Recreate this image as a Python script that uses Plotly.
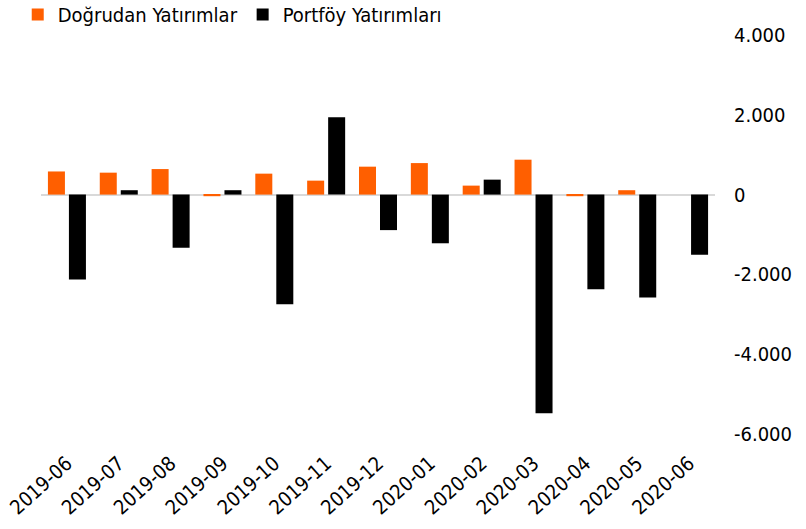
import plotly.graph_objects as go

categories = ["2019-06", "2019-07", "2019-08", "2019-09", "2019-10", "2019-11", "2019-12",
              "2020-01", "2020-02", "2020-03", "2020-04", "2020-05", "2020-06"]
dogrudan = [580, 550, 640, -40, 525, 350, 700, 790, 225, 875, -40, 110, 0]
portfoy = [-2130, 110, -1330, 110, -2750, 1940, -890, -1220, 375, -5480, -2370, -2580, -1510]
y_tickvals = [4000, 2000, 0, -2000, -4000, -6000]
y_ticktext = ["4.000", "2.000", "0", "-2.000", "-4.000", "-6.000"]

FONT = "DejaVu Sans Condensed, DejaVu Sans, sans-serif"

fig = go.Figure()
fig.add_trace(go.Bar(x=categories, y=dogrudan, name="Doğrudan Yatırımlar",
                     marker=dict(color="#FF5F00", line=dict(width=0))))
fig.add_trace(go.Bar(x=categories, y=portfoy, name="Portföy Yatırımları",
                     marker=dict(color="#000000", line=dict(width=0))))

fig.update_layout(
    width=806, height=529,
    margin=dict(l=41, r=91, t=35, b=95, autoexpand=False),
    paper_bgcolor="white", plot_bgcolor="white",
    barmode="group", bargap=0.19, bargroupgap=0.19,
    font=dict(family=FONT, size=19, color="#000000"),
    showlegend=True,
    legend=dict(orientation="h", xref="container", yref="paper",
                x=0.022, y=1.1003, xanchor="left", yanchor="top",
                font=dict(family=FONT, size=20, color="#000000"),
                itemwidth=30, traceorder="normal", bgcolor="rgba(0,0,0,0)"),
)

fig.update_xaxes(type="category", tickangle=-42, showline=False, showgrid=False,
                 ticks="", ticklabelstandoff=13, ticklabelshift=0,
                 tickfont=dict(family=FONT, size=20, color="#000000"))
fig.update_yaxes(side="right", range=[-6000, 4000], tickvals=y_tickvals, ticktext=y_ticktext,
                 showgrid=False, showline=False, ticks="", ticklabelstandoff=18,
                 zeroline=True, zerolinecolor="#D9D9D9", zerolinewidth=2,
                 tickfont=dict(family=FONT, size=20, color="#000000"))

fig.write_html("out.html", config={"displayModeBar": False},
               post_script="document.body.style.margin='0';")
